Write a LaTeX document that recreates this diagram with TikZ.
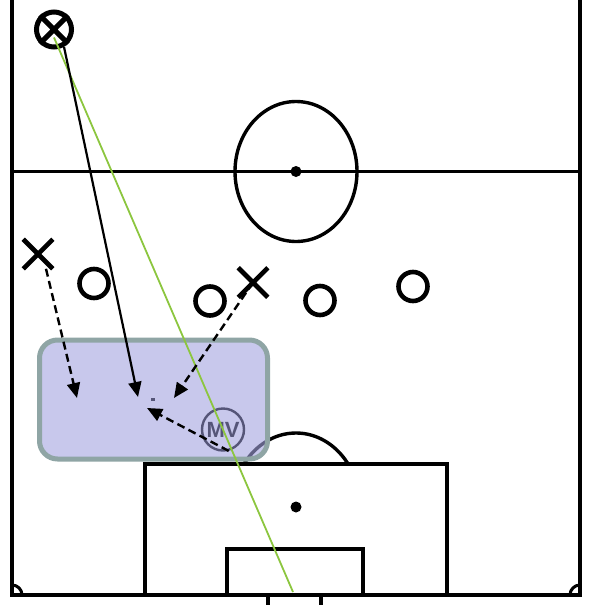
\documentclass[tikz,border=0pt]{standalone}
\usepackage{fontspec}
\setsansfont{Liberation Sans}
\usepackage{tikz}
\usetikzlibrary{arrows.meta,shapes.misc}
\definecolor{zonefill}{RGB}{163,163,223}
\definecolor{zoneedge}{RGB}{143,165,165}
\definecolor{passgreen}{HTML}{8CC63F}
\definecolor{mvink}{RGB}{85,85,120}

\begin{document}
\begin{tikzpicture}[
  x=1pt,y=-1pt,
  pitch/.style={line width=3.4pt,black},
  opp/.style={draw,cross out,minimum size=25pt,inner sep=0pt,line width=4.6pt},
  mate/.style={draw,circle,minimum size=29pt,inner sep=0pt,line width=4.6pt},
  carrier/.style={draw,circle,minimum size=35pt,inner sep=0pt,line width=5pt},
  zone/.style={draw=zoneedge,fill=zonefill,fill opacity=0.6,line width=5pt,rounded corners=18pt,minimum width=228pt,minimum height=119pt,inner sep=0pt},
  mv/.style={draw=mvink,circle,minimum size=42pt,inner sep=0pt,line width=2.4pt,text=mvink,font=\sffamily\bfseries\fontsize{22}{22}\selectfont},
  run/.style={-{Triangle[length=15pt,width=13pt]},line width=2.2pt,black},
  move/.style={-{Triangle[length=15pt,width=13pt]},line width=2.4pt,black,dash pattern=on 8pt off 4.5pt},
  pass/.style={line width=1.8pt,draw=passgreen},
]
\useasboundingbox (0,0) rectangle (591,605);

\draw[pitch] (12,0) -- (12,595) -- (580,595) -- (580,0);
\draw[pitch] (12,171.5) -- (580,171.5);
\draw[pitch] (296,171.5) ellipse[x radius=61,y radius=70];
\fill (296,171.5) circle[radius=5.5];
\draw[pitch] (145,595) -- (145,464) -- (447,464) -- (447,595);
\draw[pitch] (227,595) |- (363,549) -- (363,595);
\fill (296,507) circle[radius=5.5];
\draw[pitch] (268,605) -- (268,595) (321,595) -- (321,605);
\begin{scope}
  \clip (0,0) rectangle (591,464);
  \draw[pitch] (296,507) ellipse[x radius=64,y radius=74];
\end{scope}
\begin{scope}
  \clip (12,0) rectangle (580,595);
  \draw[line width=3pt] (12,595) circle[radius=10];
  \draw[line width=3pt] (580,595) circle[radius=10];
\end{scope}

\node[zone] (zone) at (153.5,399.5) {};

\node[carrier] (bc) at (54,29.5) {};
\draw[line width=5pt] (bc.45) -- (bc.225) (bc.135) -- (bc.315);
\node[opp] (opp1) at (38,254) {};
\node[opp] (opp2) at (253,282.5) {};
\node[mate] (mate1) at (94,283.5) {};
\node[mate] (mate2) at (210,301) {};
\node[mate] (mate3) at (320,300.5) {};
\node[mate] (mate4) at (413,286.5) {};
\node[mv] (mv) at (223,429.5) {MV};
\node[fill=mvink,minimum width=4pt,minimum height=3pt,inner sep=0pt] (drop) at (153,399) {};

\coordinate (shotend) at (293,592);
\coordinate (runend) at (138,397);
\coordinate (opp1end) at (77,398);
\coordinate (opp2end) at (174,398);
\coordinate (mvend) at (147,408);

\draw[pass] ([yshift=-8pt]bc.center) -- (shotend);
\draw[run] (bc.-60) -- (runend);
\draw[move] ([xshift=8pt]opp1.south) -- (opp1end);
\draw[move] (opp2.center) -- (opp2end);
\draw[move] (mv.-75) -- (mvend);
\end{tikzpicture}
\end{document}
